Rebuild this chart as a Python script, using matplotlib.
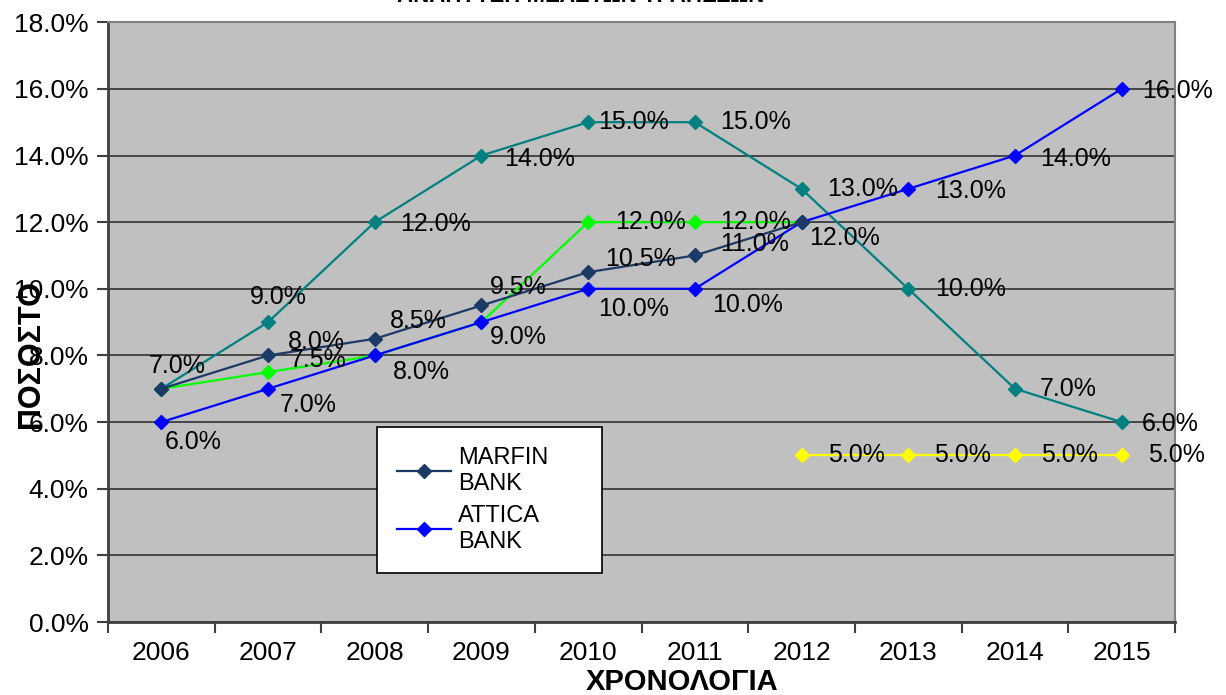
import matplotlib
matplotlib.use("Agg")
import matplotlib.pyplot as plt
import numpy as np

plt.rcParams['font.family'] = ['Liberation Sans', 'DejaVu Sans']

years = ['2006', '2007', '2008', '2009', '2010', '2011', '2012', '2013', '2014', '2015']

# values in percent, None = no point
marfin = [7.0, 8.0, 8.5, 9.5, 10.5, 11.0, 12.0, None, None, None]
attica = [6.0, 7.0, 8.0, 9.0, 10.0, 10.0, 12.0, 13.0, 14.0, 16.0]
teal_s = [7.0, 9.0, 12.0, 14.0, 15.0, 15.0, 13.0, 10.0, 7.0, 6.0]
green_s = [7.0, 7.5, 8.0, 9.0, 12.0, 12.0, 12.0, None, None, None]
yellow_s = [None, None, None, None, None, None, 5.0, 5.0, 5.0, 5.0]

yticks = [0, 2, 4, 6, 8, 10, 12, 14, 16, 18]

# label offsets in pixels (left edge dx, centre dy), None = label hidden
marfin_off = [None, (20, 13), (15, 18), (8, 18), (17, 13), (25, 11), None, None, None, None]
attica_off = [(3, -20), (12, -16), None, None, (10, -20), (17, -16), (8, -16), (27, -2), (25, -3), (20, -2)]
teal_off = [(-13, 23), (-18, 25), (25, -2), (23, -3), (10, 0), (25, 0), (26, 0), (27, 0), (25, 0), (20, -2)]
green_off = [None, (22, 12), (18, -17), (8, -15), (27, 0), (25, 0), None, None, None, None]
yellow_off = [None] * 6 + [(26, 0)] * 4

fig = plt.figure(figsize=(12.26, 6.95), dpi=100)
ax = fig.add_axes([0.0881, 0.105, 0.8703, 0.863])
ax.set_facecolor('#C0C0C0')

x = np.arange(len(years))


def draw(vals, color, offs, label=None, z=3):
    xs = [i for i, v in enumerate(vals) if v is not None]
    ys = [v for v in vals if v is not None]
    ax.plot(xs, ys, color=color, lw=1.6, marker='D', ms=7, mec=color, mfc=color,
            label=label, zorder=z)
    for i, v in enumerate(vals):
        if v is None or offs[i] is None:
            continue
        ax.annotate('%.1f%%' % v, (i, v), xytext=offs[i], textcoords='offset pixels',
                    ha='left', va='center', fontsize=18, color='black', zorder=6)


draw(yellow_s, '#FFFF00', yellow_off)
draw(green_s, '#00FF00', green_off)
draw(teal_s, '#008080', teal_off)
draw(attica, '#0000FF', attica_off, 'ATTICA\nBANK', z=4)
draw(marfin, '#1B3A66', marfin_off, 'MARFIN\nBANK', z=4)

ax.set_xlim(-0.5, 9.5)
ax.set_ylim(0, 18)
ax.set_yticks(yticks)
ax.set_yticklabels(['%.1f%%' % t for t in yticks], fontsize=19)
ax.yaxis.grid(True, color='#303030', lw=1.2)
ax.set_axisbelow(True)

ax.set_xticks(np.arange(-0.5, 10, 1))
ax.set_xticklabels([])
ax.set_xticks(x, minor=True)
ax.set_xticklabels(years, minor=True, fontsize=19)
ax.tick_params(axis='x', which='minor', length=0, pad=14)
ax.tick_params(axis='x', which='major', length=8, width=1.5, color='#404040')
ax.tick_params(axis='y', length=8, width=1.5, color='#404040', pad=6)

for s in ['left', 'bottom']:
    ax.spines[s].set_color('#404040')
    ax.spines[s].set_linewidth(2)
for s in ['top', 'right']:
    ax.spines[s].set_color('#808080')
    ax.spines[s].set_linewidth(1.5)

handles, labels = ax.get_legend_handles_labels()
leg = ax.legend(handles[::-1], labels[::-1], loc='upper left',
                bbox_to_anchor=(0.252, 0.09, 0.211, 0.235), mode='expand',
                fontsize=17, frameon=True, fancybox=False, edgecolor='black',
                framealpha=1, handlelength=2.3, handletextpad=0.3, labelspacing=0.45,
                borderpad=0.85, borderaxespad=0)
leg.get_frame().set_linewidth(1.2)
leg.set_zorder(10)

fig.text(0.556, 0.019, 'ΧΡΟΝΟΛΟΓΙΑ', ha='center', va='center', fontsize=21, fontweight='bold')
fig.text(0.025, 0.49, 'ΠΟΣΟΣΤΟ', ha='center', va='center', rotation=90, fontsize=22,
         fontweight='bold')
fig.text(0.474, 0.99, 'ΑΝΑΠΤΥΞΗ ΜΕΛΕΤΩΝ ΤΡΑΠΕΖΩΝ', ha='center', va='bottom', fontsize=16,
         fontweight='bold')

fig.savefig('out.png', dpi=100)
